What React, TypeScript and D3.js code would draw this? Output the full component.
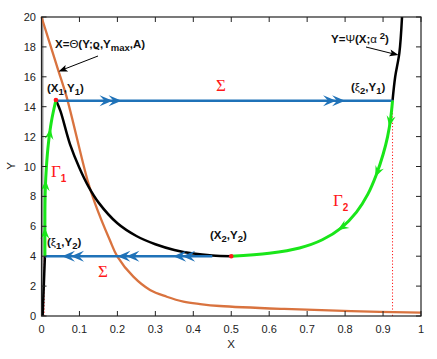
import React from "react";
import * as d3 from "d3";

// ---- data ----
const xTicks = [0, 0.1, 0.2, 0.3, 0.4, 0.5, 0.6, 0.7, 0.8, 0.9, 1];
const xTickLabels = ["0", "0.1", "0.2", "0.3", "0.4", "0.5", "0.6", "0.7", "0.8", "0.9", "1"];
const yTicks = [0, 2, 4, 6, 8, 10, 12, 14, 16, 18, 20];

const thetaX = [0, 0.044, 0.066, 0.121, 0.141, 0.18, 0.2, 0.242, 0.286, 0.33, 0.374, 0.418, 0.47, 0.64, 0.816, 1.0];
const thetaY = [20, 16.45, 14.67, 9.1, 7.54, 5.08, 3.97, 2.63, 1.74, 1.29, 0.96, 0.8, 0.67, 0.47, 0.33, 0.22];

const psiLeftX = [0.003, 0.006, 0.009];
const psiLeftY = [0, 2, 4];
const psiMidX = [0.038, 0.05, 0.075, 0.1, 0.125, 0.15, 0.2, 0.25, 0.3, 0.35, 0.4, 0.45, 0.5];
const psiMidY = [14.45, 13.7, 11.5, 9.9, 8.6, 7.6, 6.2, 5.35, 4.8, 4.42, 4.18, 4.05, 4.0];
const psiRightX = [0.925, 0.932, 0.943, 0.95];
const psiRightY = [14.4, 16, 17.6, 20];

const gamma1X = [0.009, 0.009, 0.01, 0.013, 0.018, 0.026, 0.038];
const gamma1Y = [4, 7, 8.5, 10, 11.5, 13, 14.45];
const gamma1ArrowY = [5.9, 9.1, 12.55];

const gamma2X = [0.925, 0.92, 0.912, 0.9, 0.883, 0.86, 0.83, 0.79, 0.74, 0.68, 0.6, 0.5];
const gamma2Y = [14.4, 13.2, 12.0, 10.8, 9.5, 8.15, 6.95, 5.9, 5.1, 4.55, 4.2, 4.0];
const gamma2ArrowY = [12.66, 9.3, 5.75];

const Y1 = 14.4;
const Y2 = 4;
const sigmaTopX = [0.04, 0.925];
const sigmaBottomX = [0.45, 0.009];
const sigmaTopArrowX = [0.211, 0.8];
const sigmaBottomArrowX = [0.054, 0.2, 0.347];

const pointX = [0.038, 0.5];
const pointY = [14.45, 4.0];

const dottedX = [0.925, 0.007];
const dottedTopY = [14.4, 4];

// ---- layout ----
const W = 437;
const H = 359;
const x = d3.scaleLinear().domain([0, 1]).range([41.5, 421]);
const y = d3.scaleLinear().domain([0, 20]).range([316, 17]);

const ORANGE = "#d9733f";
const BLUE = "#1f72b8";
const GREEN = "#19e619";
const RED = "#ff1a1a";

const lineGen = d3
  .line<[number, number]>()
  .x((d) => x(d[0]))
  .y((d) => y(d[1]))
  .curve(d3.curveCatmullRom.alpha(0.5));

const zip = (a: number[], b: number[]) => a.map((v, i) => [v, b[i]] as [number, number]);

function head(px: number, py: number, ang: number, L: number, Wd: number, N: number) {
  const pts = [
    [0, 0],
    [-L, -Wd],
    [-L + N, 0],
    [-L, Wd],
  ].map(([a, b]) => [px + a * Math.cos(ang) - b * Math.sin(ang), py + a * Math.sin(ang) + b * Math.cos(ang)]);
  return "M" + pts.map((p) => p[0].toFixed(2) + "," + p[1].toFixed(2)).join("L") + "Z";
}

// locate a point on a polyline (pixel space) at a given Y value, with direction of travel
function onCurve(xs: number[], ys: number[], yv: number) {
  for (let i = 0; i < xs.length - 1; i++) {
    const a = ys[i];
    const b = ys[i + 1];
    if ((yv - a) * (yv - b) <= 0 && a !== b) {
      const t = (yv - a) / (b - a);
      const xv = xs[i] + t * (xs[i + 1] - xs[i]);
      const ang = Math.atan2(y(b) - y(a), x(xs[i + 1]) - x(xs[i]));
      return { px: x(xv), py: y(yv), ang };
    }
  }
  return { px: 0, py: 0, ang: 0 };
}

const txt: React.CSSProperties = { fontFamily: "Liberation Sans, Arial, sans-serif" };

export default function App() {
  const bold = { ...txt, fontWeight: 700, fontSize: 11.5, fill: "#111" } as React.CSSProperties;
  const greek = { fontFamily: "Liberation Serif, Times New Roman, serif", fontSize: 17, fill: RED } as React.CSSProperties;
  const sub = 9.5;
  return (
    <svg width={W} height={H} style={{ position: "absolute", left: 0, top: 0, background: "#fff" }}>
      <rect x={0} y={0} width={W} height={H} fill="#fff" />
      {/* gray X=0 nullcline */}
      <line x1={x(0) + 1} x2={x(0) + 1} y1={y(0)} y2={y(20)} stroke="#9a9a9a" strokeWidth={2} />

      {/* red dotted verticals */}
      {dottedX.map((d, i) => (
        <line key={i} x1={x(d)} x2={x(d)} y1={y(0)} y2={y(dottedTopY[i])} stroke={RED} strokeWidth={1} strokeDasharray="1.2,2" />
      ))}

      {/* orange Theta curve */}
      <path d={lineGen(zip(thetaX, thetaY)) || ""} fill="none" stroke={ORANGE} strokeWidth={2.3} />

      {/* black Psi curve */}
      <path d={lineGen(zip(psiLeftX, psiLeftY)) || ""} fill="none" stroke="#000" strokeWidth={2.5} />
      <path d={lineGen(zip(psiMidX, psiMidY)) || ""} fill="none" stroke="#000" strokeWidth={2.5} />
      <path d={lineGen(zip(psiRightX, psiRightY)) || ""} fill="none" stroke="#000" strokeWidth={2.5} />

      {/* blue Sigma lines */}
      <line x1={x(sigmaTopX[0])} x2={x(sigmaTopX[1])} y1={y(Y1)} y2={y(Y1)} stroke={BLUE} strokeWidth={2.5} />
      <line x1={x(sigmaBottomX[0])} x2={x(sigmaBottomX[1])} y1={y(Y2)} y2={y(Y2)} stroke={BLUE} strokeWidth={2.5} />
      {sigmaTopArrowX.map((d, i) => (
        <g key={"t" + i} fill={BLUE}>
          <path d={head(x(d), y(Y1), 0, 13, 5.5, 5)} />
          <path d={head(x(d) - 9, y(Y1), 0, 13, 5.5, 5)} />
        </g>
      ))}
      {sigmaBottomArrowX.map((d, i) => (
        <g key={"b" + i} fill={BLUE}>
          <path d={head(x(d), y(Y2), Math.PI, 13, 5.5, 5)} />
          <path d={head(x(d) + 9, y(Y2), Math.PI, 13, 5.5, 5)} />
        </g>
      ))}

      {/* green Gamma curves */}
      <path d={lineGen(zip(gamma1X, gamma1Y)) || ""} fill="none" stroke={GREEN} strokeWidth={3} />
      <path d={lineGen(zip(gamma2X, gamma2Y)) || ""} fill="none" stroke={GREEN} strokeWidth={3} />
      {gamma1ArrowY.map((v, i) => {
        const p = onCurve(gamma1X, gamma1Y, v);
        return <path key={"g1" + i} d={head(p.px, p.py, p.ang, 11, 4.5, 4)} fill={GREEN} />;
      })}
      {gamma2ArrowY.map((v, i) => {
        const p = onCurve(gamma2X, gamma2Y, v);
        return <path key={"g2" + i} d={head(p.px, p.py, p.ang, 11, 4.5, 4)} fill={GREEN} />;
      })}

      {/* red points */}
      {pointX.map((d, i) => (
        <circle key={i} cx={x(d)} cy={y(pointY[i])} r={2.3} fill={RED} />
      ))}

      {/* frame */}
      <rect x={x(0)} y={y(20)} width={x(1) - x(0)} height={y(0) - y(20)} fill="none" stroke="#222" strokeWidth={1.2} />
      {xTicks.map((t, i) => (
        <g key={"xt" + i}>
          <line x1={x(t)} x2={x(t)} y1={y(0)} y2={y(0) - 5} stroke="#222" strokeWidth={1} />
          <line x1={x(t)} x2={x(t)} y1={y(20)} y2={y(20) + 5} stroke="#222" strokeWidth={1} />
          <text x={x(t)} y={333} textAnchor="middle" style={{ ...txt, fontSize: 11, fill: "#222" }}>
            {xTickLabels[i]}
          </text>
        </g>
      ))}
      {yTicks.map((t, i) => (
        <g key={"yt" + i}>
          <line x1={x(0)} x2={x(0) + 5} y1={y(t)} y2={y(t)} stroke="#222" strokeWidth={1} />
          <line x1={x(1)} x2={x(1) - 5} y1={y(t)} y2={y(t)} stroke="#222" strokeWidth={1} />
          <text x={36} y={y(t) + 4} textAnchor="end" style={{ ...txt, fontSize: 11, fill: "#222" }}>
            {t}
          </text>
        </g>
      ))}
      <text x={231} y={348} textAnchor="middle" style={{ ...txt, fontSize: 11.5, fill: "#222" }}>X</text>
      <text x={0} y={0} transform="translate(15,166) rotate(-90)" textAnchor="middle" style={{ ...txt, fontSize: 11.5, fill: "#222" }}>Y</text>

      {/* annotations */}
      <text x={55} y={48} style={bold}>
        X=<tspan style={{ fontWeight: 400 }}>Θ</tspan>(Y;ϱ,Y<tspan dy={3} fontSize={sub}>max</tspan><tspan dy={-3}>,A)</tspan>
      </text>
      <line x1={98} x2={62} y1={56} y2={70} stroke="#000" strokeWidth={1} />
      <path d={head(58.5, 71.5, Math.atan2(71.5 - 56, 58.5 - 98), 9, 3.5, 2)} fill="#000" />

      <text x={331} y={43} style={bold}>
        Y=<tspan style={{ fontWeight: 400 }}>Ψ</tspan>(X;<tspan style={{ fontWeight: 400 }}>α</tspan><tspan dy={-4} fontSize={sub}> 2</tspan><tspan dy={4}>)</tspan>
      </text>
      <line x1={366} x2={394} y1={47} y2={54} stroke="#000" strokeWidth={1} />
      <path d={head(398.5, 55, Math.atan2(55 - 47, 398.5 - 366), 9, 3.5, 2)} fill="#000" />

      <text x={47} y={92} style={bold}>
        (X<tspan dy={3} fontSize={sub}>1</tspan><tspan dy={-3}>,Y</tspan><tspan dy={3} fontSize={sub}>1</tspan><tspan dy={-3}>)</tspan>
      </text>
      <text x={351} y={91} style={bold}>
        (<tspan style={{ fontWeight: 400 }}>ξ</tspan><tspan dy={3} fontSize={sub}>2</tspan><tspan dy={-3}>,Y</tspan><tspan dy={3} fontSize={sub}>1</tspan><tspan dy={-3}>)</tspan>
      </text>
      <text x={210} y={239} style={bold}>
        (X<tspan dy={3} fontSize={sub}>2</tspan><tspan dy={-3}>,Y</tspan><tspan dy={3} fontSize={sub}>2</tspan><tspan dy={-3}>)</tspan>
      </text>
      <text x={47} y={246} style={bold}>
        (<tspan style={{ fontWeight: 400 }}>ξ</tspan><tspan dy={3} fontSize={sub}>1</tspan><tspan dy={-3}>,Y</tspan><tspan dy={3} fontSize={sub}>2</tspan><tspan dy={-3}>)</tspan>
      </text>

      <text x={221} y={91} textAnchor="middle" style={greek}>Σ</text>
      <text x={103} y={277} textAnchor="middle" style={greek}>Σ</text>
      <text x={51} y={177} style={greek}>
        Γ<tspan dy={5} style={{ ...txt, fontWeight: 700, fontSize: 10, fill: RED }}>1</tspan>
      </text>
      <text x={333} y={206} style={greek}>
        Γ<tspan dy={5} style={{ ...txt, fontWeight: 700, fontSize: 10, fill: RED }}>2</tspan>
      </text>
    </svg>
  );
}
